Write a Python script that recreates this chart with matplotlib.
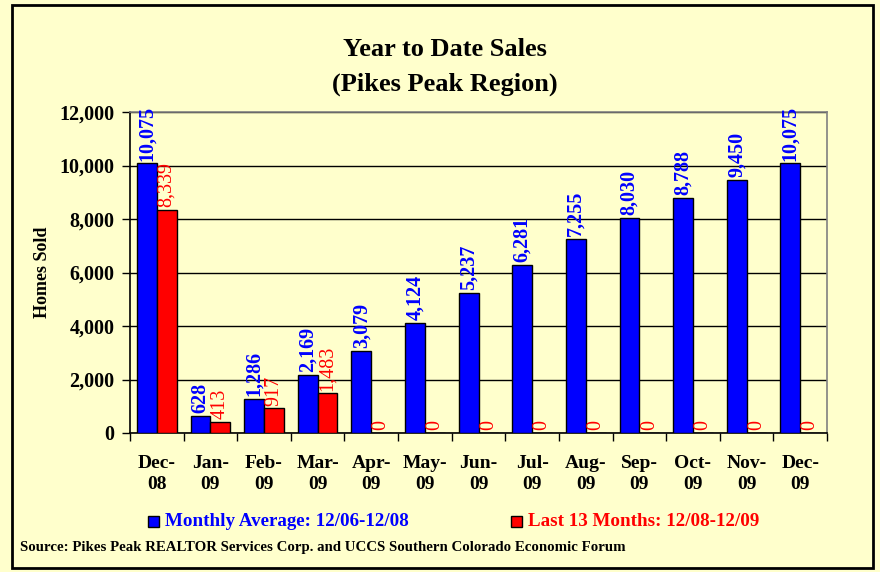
import matplotlib
matplotlib.use("Agg")
import matplotlib.pyplot as plt
import numpy as np
from matplotlib.patches import Rectangle
from matplotlib.ticker import FuncFormatter, MultipleLocator, FixedLocator

categories = ["Dec-\n08", "Jan-\n09", "Feb-\n09", "Mar-\n09", "Apr-\n09", "May-\n09",
              "Jun-\n09", "Jul-\n09", "Aug-\n09", "Sep-\n09", "Oct-\n09", "Nov-\n09", "Dec-\n09"]
monthly_avg = [10075, 628, 1286, 2169, 3079, 4124, 5237, 6281, 7255, 8030, 8788, 9450, 10075]
last_13 = [8339, 413, 917, 1483, 0, 0, 0, 0, 0, 0, 0, 0, 0]
series_names = ["Monthly Average: 12/06-12/08", "Last 13 Months: 12/08-12/09"]

BG = "#FFFFCC"
BLUE = "#0000FF"
RED = "#FF0000"
SERIF = ["Liberation Serif", "DejaVu Serif"]
plt.rcParams["font.family"] = SERIF

fig = plt.figure(figsize=(8.8, 5.72), dpi=100)
fig.patch.set_facecolor(BG)
ax = fig.add_axes([130/880, 1-433/572, (827-130)/880, (433-112)/572])
ax.set_facecolor(BG)

x = np.arange(len(categories))
w = 0.37
b1 = ax.bar(x - w/2, monthly_avg, w, color=BLUE, edgecolor="black", linewidth=1, zorder=3)
b2 = ax.bar(x + w/2, last_13, w, color=RED, edgecolor="black", linewidth=1, zorder=3)

fmt = lambda v: f"{v:,.0f}"
for rect, v in zip(b1, monthly_avg):
    ax.annotate(fmt(v), (rect.get_x() + rect.get_width()/2, v), xytext=(0, 2),
                textcoords="offset points", rotation=90, ha="center", va="bottom",
                color=BLUE, fontsize=14.5, fontweight="bold", zorder=4)
for rect, v in zip(b2, last_13):
    ax.annotate(fmt(v), (rect.get_x() + rect.get_width()/2, v), xytext=(0, 2),
                textcoords="offset points", rotation=90, ha="center", va="bottom",
                color=RED, fontsize=14.5, fontweight="normal", zorder=4)

ax.set_xlim(-0.5, len(categories) - 0.5)
ax.set_ylim(0, 12000)
ax.yaxis.set_major_locator(MultipleLocator(2000))
ax.yaxis.set_major_formatter(FuncFormatter(lambda v, p: f"{v:,.0f}"))
ax.grid(axis="y", color="black", linewidth=1, zorder=0)
ax.set_axisbelow(True)

ax.set_xticks(x)
ax.set_xticklabels(categories, fontsize=14, fontweight="bold", linespacing=1.3)
ax.tick_params(axis="x", which="major", length=0, pad=16)
ax.xaxis.set_minor_locator(FixedLocator(np.arange(-0.5, len(categories), 1.0)))
ax.tick_params(axis="x", which="minor", length=6, width=1, direction="out")
ax.tick_params(axis="y", length=6, width=1, direction="out", pad=5, labelsize=14.5)
for lab in ax.get_yticklabels():
    lab.set_fontweight("bold")

for s in ["top", "right"]:
    ax.spines[s].set_color("#808080")
    ax.spines[s].set_linewidth(1.2)
for s in ["left", "bottom"]:
    ax.spines[s].set_color("black")
    ax.spines[s].set_linewidth(1.2)

ax.set_ylabel("Homes Sold", fontsize=13, fontweight="bold")
ax.yaxis.set_label_coords((51 - 130) / 697, 0.5)

fig.text(445/880, 1-49/572, "Year to Date Sales", ha="center", va="center",
         fontsize=19, fontweight="bold")
fig.text(445/880, 1-84/572, "(Pikes Peak Region)", ha="center", va="center",
         fontsize=19, fontweight="bold")

# legend
ly = 1 - 521/572
fig.patches.append(Rectangle((148/880, ly - 5.5/572), 11/880, 11/572, transform=fig.transFigure,
                             facecolor=BLUE, edgecolor="black", linewidth=1))
fig.text(165/880, ly, series_names[0], ha="left", va="center", color=BLUE,
         fontsize=13.7, fontweight="bold")
fig.patches.append(Rectangle((511/880, ly - 5.5/572), 11/880, 11/572, transform=fig.transFigure,
                             facecolor=RED, edgecolor="black", linewidth=1))
fig.text(528/880, ly, series_names[1], ha="left", va="center", color=RED,
         fontsize=13.7, fontweight="bold")

fig.text(20/880, 1-548/572,
         "Source: Pikes Peak REALTOR Services Corp. and UCCS Southern Colorado Economic Forum",
         ha="left", va="center", fontsize=10.7, fontweight="bold")

# outer border
fig.patches.append(Rectangle((12/880, 1-568/572), (873-12)/880, (568-5)/572,
                             transform=fig.transFigure, fill=False, edgecolor="black", linewidth=2))

fig.savefig("out.png", dpi=100, facecolor=BG)
